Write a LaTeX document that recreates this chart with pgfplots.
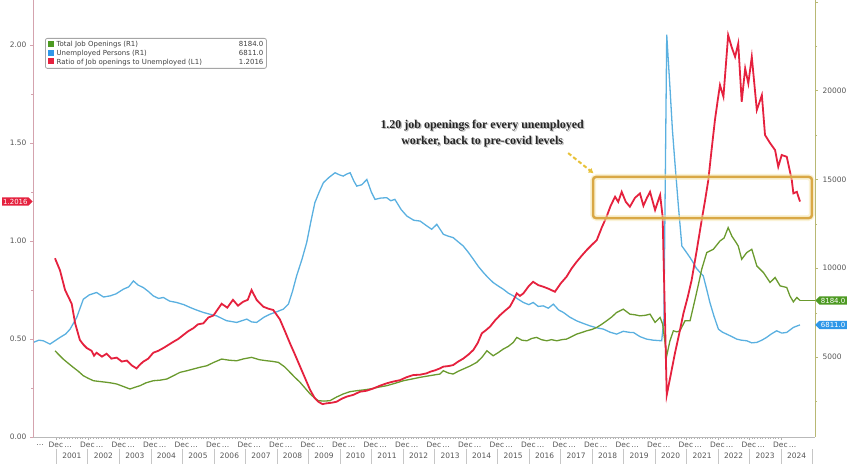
\documentclass[border=0pt]{standalone}
\usepackage{fontspec}
\setmainfont{DejaVu Sans}
\newfontfamily\annfont{Liberation Serif}
\usepackage{pgfplots}
\pgfplotsset{compat=1.18}
\usetikzlibrary{shapes.symbols,arrows.meta}

\definecolor{ratiored}{HTML}{E5213E}
\definecolor{unblue}{HTML}{5AB0E0}
\definecolor{unbox}{HTML}{2F97E8}
\definecolor{jobgreen}{HTML}{6A9A2E}
\definecolor{jobbox}{HTML}{4D9A22}
\definecolor{laxis}{HTML}{D4A3AE}
\definecolor{raxis}{HTML}{B8B874}
\definecolor{boxgold}{HTML}{D9A845}
\definecolor{arrgold}{HTML}{E8C23A}
\definecolor{ticktext}{HTML}{555555}

\pgfplotsset{
  common/.style={
    scale only axis, width=782bp, height=437bp,
    xmin=2000.262, xmax=2025.087,
    clip=false,
    /pgf/number format/assume math mode=true,
    tick label style={font=\fontsize{7.5}{8}\selectfont, text=ticktext},
    tick align=outside,
    major tick length=3bp, minor tick length=2bp,
  },
}

\begin{document}
\begin{tikzpicture}
\useasboundingbox (-33bp,-27bp) rectangle (815bp,437bp);

% right axis: openings and unemployed
\begin{axis}[common,
  ymin=500, ymax=25100,
  axis y line*=right, axis x line=none,
  y axis line style={draw=raxis, line width=0.8bp},
  scaled y ticks=false,
  ytick={5000,10000,15000,20000},
  extra y ticks={25000}, extra y tick labels={},
  minor ytick={2500,7500,12500,17500,22500},
  y tick style={draw=raxis},
  yticklabel style={/pgf/number format/1000 sep={}, xshift=1bp},
]
\addplot[unblue, line width=1.3bp] coordinates {
(2000.27,5826) (2000.45,5950) (2000.59,5916) (2000.80,5730) (2001.12,6107)
(2001.30,6300) (2001.44,6573) (2001.65,7230) (2001.86,8258) (2002.05,8500)
(2002.28,8635) (2002.50,8380) (2002.71,8444) (2002.90,8560) (2003.13,8820)
(2003.30,8950) (2003.45,9286) (2003.60,9050) (2003.76,8916) (2003.92,8700)
(2004.08,8444) (2004.25,8300) (2004.40,8354) (2004.60,8150) (2004.82,8073)
(2005.05,7950) (2005.25,7792) (2005.45,7650) (2005.67,7511) (2005.90,7400)
(2006.09,7320) (2006.40,7050) (2006.73,6949) (2006.90,7050) (2007.05,7135)
(2007.20,6980) (2007.36,6949) (2007.60,7250) (2007.79,7416) (2008.00,7550)
(2008.21,7697) (2008.37,7978) (2008.50,8700) (2008.63,9568) (2008.80,10500)
(2008.95,11444) (2009.08,12600) (2009.21,13691) (2009.35,14300) (2009.48,14815)
(2009.65,15100) (2009.85,15376) (2010.00,15250) (2010.11,15187) (2010.22,15300)
(2010.33,15376) (2010.45,14900) (2010.54,14623) (2010.70,14700) (2010.86,15000)
(2011.00,14300) (2011.12,13876) (2011.30,13950) (2011.49,13972) (2011.62,13800)
(2011.75,13876) (2011.95,13300) (2012.13,12938) (2012.35,12700) (2012.55,12657)
(2012.75,12400) (2012.92,12191) (2013.08,12472) (2013.29,11910) (2013.45,11800)
(2013.60,11725) (2013.75,11500) (2013.92,11253) (2014.08,10900) (2014.24,10506)
(2014.40,10100) (2014.56,9758) (2014.72,9450) (2014.87,9197) (2015.03,9000)
(2015.19,8820) (2015.35,8600) (2015.51,8444) (2015.67,8250) (2015.83,8073)
(2016.00,7950) (2016.14,8073) (2016.30,7850) (2016.46,7882) (2016.62,7750)
(2016.78,7978) (2016.95,7650) (2017.10,7511) (2017.30,7250) (2017.52,7039)
(2017.72,6900) (2017.94,6758) (2018.15,6650) (2018.37,6573) (2018.58,6400)
(2018.79,6292) (2019.00,6450) (2019.21,6387) (2019.32,6387) (2019.53,6150)
(2019.74,6011) (2019.95,5950) (2020.22,5916) (2020.29,7135) (2020.38,23146)
(2020.48,20242) (2020.56,17800) (2020.64,15938) (2020.75,13500) (2020.86,11253)
(2021.01,10882) (2021.12,10600) (2021.22,10320) (2021.32,10000) (2021.44,9758)
(2021.54,9568) (2021.65,8800) (2021.75,8073) (2021.88,7300) (2022.02,6573)
(2022.15,6400) (2022.28,6292) (2022.45,6150) (2022.60,6011) (2022.75,5950)
(2022.92,5916) (2023.08,5800) (2023.24,5826) (2023.40,5950) (2023.55,6107)
(2023.70,6300) (2023.87,6478) (2024.03,6350) (2024.19,6387) (2024.40,6669)
(2024.61,6811)
};
\addplot[jobgreen, line width=1.3bp] coordinates {
(2000.96,5354) (2001.10,5100) (2001.22,4888) (2001.38,4650) (2001.54,4421)
(2001.70,4200) (2001.86,3949) (2002.02,3800) (2002.18,3668) (2002.40,3620)
(2002.60,3579) (2002.75,3540) (2002.92,3483) (2003.12,3350) (2003.34,3202)
(2003.50,3300) (2003.66,3388) (2003.85,3550) (2004.08,3668) (2004.30,3700)
(2004.51,3764) (2004.72,3950) (2004.93,4140) (2005.15,4230) (2005.35,4326)
(2005.55,4420) (2005.78,4511) (2006.00,4700) (2006.25,4888) (2006.50,4820)
(2006.73,4792) (2006.95,4900) (2007.20,4983) (2007.45,4850) (2007.68,4792)
(2007.85,4760) (2008.05,4702) (2008.25,4450) (2008.42,4140) (2008.58,3850)
(2008.74,3579) (2008.90,3250) (2009.06,2921) (2009.20,2700) (2009.32,2545)
(2009.50,2520) (2009.69,2545) (2009.90,2750) (2010.11,2921) (2010.32,3050)
(2010.54,3107) (2010.75,3150) (2010.96,3202) (2011.22,3300) (2011.49,3388)
(2011.75,3520) (2012.02,3668) (2012.28,3760) (2012.55,3859) (2012.85,3950)
(2013.18,4045) (2013.29,4230) (2013.45,4100) (2013.60,4045) (2013.76,4200)
(2013.92,4326) (2014.14,4500) (2014.35,4702) (2014.52,5000) (2014.67,5354)
(2014.87,5073) (2015.03,5250) (2015.19,5449) (2015.35,5600) (2015.51,5826)
(2015.62,6107) (2015.78,5950) (2015.94,5916) (2016.10,6050) (2016.25,6107)
(2016.40,5980) (2016.57,5916) (2016.72,5980) (2016.89,5916) (2017.05,5980)
(2017.20,6011) (2017.36,6150) (2017.52,6292) (2017.68,6380) (2017.84,6478)
(2018.00,6550) (2018.16,6669) (2018.32,6850) (2018.47,7039) (2018.63,7250)
(2018.79,7511) (2019.00,7697) (2019.21,7416) (2019.37,7380) (2019.53,7320)
(2019.70,7350) (2019.85,7416) (2020.01,6949) (2020.17,7230) (2020.25,6854)
(2020.38,5073) (2020.48,5900) (2020.59,6478) (2020.70,6420) (2020.80,6478)
(2020.96,7039) (2021.12,7039) (2021.28,8258) (2021.40,9200) (2021.49,9945)
(2021.65,10882) (2021.86,11067) (2022.07,11534) (2022.20,11700) (2022.33,12287)
(2022.45,11800) (2022.55,11534) (2022.65,11253) (2022.76,10506) (2022.92,10882)
(2023.08,11067) (2023.24,10129) (2023.45,9758) (2023.66,9197) (2023.82,9478)
(2023.98,9006) (2024.19,8916) (2024.29,8444) (2024.40,8107) (2024.51,8354)
(2024.61,8184)
};
\coordinate (gEnd) at (axis cs:2024.61,8184);
\coordinate (gTag) at (axis cs:2025.087,8184);
\coordinate (bTag) at (axis cs:2025.087,6811);
\end{axis}

% left axis: ratio
\begin{axis}[common,
  ymin=0, ymax=2.23,
  axis y line*=left, axis x line*=bottom,
  y axis line style={draw=laxis, line width=0.8bp},
  x axis line style={draw=gray!55, line width=0.6bp},
  ytick={0,0.5,1,1.5,2},
  minor ytick={0.25,0.75,1.25,1.75},
  y tick style={draw=laxis},
  x tick style={draw=gray!60},
  yticklabel style={/pgf/number format/.cd, fixed, fixed zerofill, precision=2},
  xtick={2001,2002,2003,2004,2005,2006,2007,2008,2009,2010,2011,2012,
         2013,2014,2015,2016,2017,2018,2019,2020,2021,2022,2023,2024},
  xticklabel={Dec\,\ldots},
  xticklabel style={xshift=4bp, yshift=1bp},
  minor x tick num=11,
]
\addplot[ratiored, line width=1.8bp] coordinates {
(2000.96,0.912) (2001.12,0.85) (2001.28,0.75) (2001.49,0.68) (2001.60,0.58)
(2001.75,0.495) (2001.87,0.47) (2001.97,0.454) (2002.12,0.44) (2002.20,0.415)
(2002.28,0.43) (2002.45,0.41) (2002.60,0.425) (2002.75,0.40) (2002.92,0.405)
(2003.08,0.385) (2003.24,0.39) (2003.40,0.365) (2003.55,0.35) (2003.66,0.37)
(2003.76,0.384) (2003.92,0.40) (2004.08,0.43) (2004.24,0.44) (2004.40,0.454)
(2004.56,0.47) (2004.72,0.486) (2004.87,0.50) (2005.03,0.52) (2005.19,0.54)
(2005.35,0.555) (2005.50,0.575) (2005.67,0.58) (2005.83,0.61) (2005.99,0.62)
(2006.12,0.65) (2006.25,0.68) (2006.43,0.66) (2006.61,0.70) (2006.77,0.67)
(2006.93,0.69) (2007.08,0.70) (2007.20,0.75) (2007.36,0.70) (2007.57,0.665)
(2007.73,0.655) (2007.89,0.648) (2008.10,0.60) (2008.26,0.54) (2008.42,0.478)
(2008.58,0.42) (2008.74,0.36) (2008.90,0.30) (2009.06,0.24) (2009.20,0.20)
(2009.32,0.18) (2009.45,0.168) (2009.59,0.172) (2009.75,0.175) (2009.90,0.18)
(2010.06,0.195) (2010.22,0.206) (2010.43,0.215) (2010.64,0.231) (2010.85,0.236)
(2011.07,0.248) (2011.28,0.262) (2011.49,0.274) (2011.70,0.283) (2011.91,0.29)
(2012.12,0.305) (2012.33,0.316) (2012.55,0.318) (2012.76,0.325) (2012.87,0.333)
(2013.02,0.34) (2013.18,0.35) (2013.29,0.359) (2013.45,0.362) (2013.60,0.367)
(2013.76,0.385) (2013.92,0.40) (2014.08,0.42) (2014.24,0.444) (2014.38,0.48)
(2014.51,0.529) (2014.64,0.545) (2014.77,0.563) (2014.93,0.595) (2015.09,0.622)
(2015.25,0.645) (2015.40,0.665) (2015.52,0.70) (2015.62,0.733) (2015.72,0.72)
(2015.83,0.733) (2016.00,0.77) (2016.14,0.792) (2016.30,0.775) (2016.46,0.767)
(2016.65,0.755) (2016.83,0.741) (2017.02,0.785) (2017.20,0.818) (2017.36,0.86)
(2017.52,0.894) (2017.68,0.925) (2017.84,0.954) (2018.00,0.98) (2018.16,1.005)
(2018.32,1.07) (2018.47,1.124) (2018.60,1.18) (2018.74,1.226) (2018.84,1.20)
(2018.95,1.251) (2019.08,1.20) (2019.21,1.175) (2019.37,1.22) (2019.53,1.243)
(2019.64,1.18) (2019.75,1.22) (2019.85,1.251) (2020.01,1.158) (2020.17,1.235)
(2020.25,1.124) (2020.38,0.214) (2020.51,0.32) (2020.64,0.427) (2020.78,0.53)
(2020.91,0.631) (2021.04,0.71) (2021.17,0.80) (2021.33,0.95) (2021.49,1.107)
(2021.60,1.21) (2021.70,1.311) (2021.80,1.46) (2021.91,1.617) (2022.00,1.72)
(2022.07,1.796) (2022.18,1.736) (2022.33,2.051) (2022.44,1.99) (2022.55,1.94)
(2022.65,2.008) (2022.76,1.711) (2022.87,1.881) (2022.97,1.804) (2023.08,1.94)
(2023.24,1.668) (2023.40,1.745) (2023.50,1.541) (2023.66,1.50) (2023.82,1.464)
(2023.92,1.379) (2024.03,1.439) (2024.19,1.43) (2024.35,1.311) (2024.40,1.243)
(2024.51,1.251) (2024.61,1.2016)
};
\coordinate (rTag) at (axis cs:2000.262,1.2016);
\coordinate (boxA) at (axis cs:2018.04,1.117);
\coordinate (boxB) at (axis cs:2024.99,1.327);
\coordinate (arrA) at (axis cs:2017.25,1.449);
\coordinate (arrB) at (axis cs:2018.06,1.345);
\coordinate (annot) at (axis cs:2014.52,1.549);
\end{axis}

% year labels and separators below the axis (1 year = 31.5 bp, 2000.262 at 0)
\foreach \yr in {2001,2002,2003,2004,2005,2006,2007,2008,2009,2010,2011,2012,
                 2013,2014,2015,2016,2017,2018,2019,2020,2021,2022,2023,2024} {
  \pgfmathsetmacro{\xs}{(\yr-2000.262)*31.5005}
  \pgfmathsetmacro{\xm}{\xs+15.75}
  \node[font=\fontsize{7.5}{8}\selectfont, text=ticktext] at (\xm bp,-18.5bp) {\yr};
  \draw[gray!45, line width=0.5bp] (\xs bp,-12bp) -- (\xs bp,-27bp);
}
\draw[gray!45, line width=0.5bp] (779.7bp,-12bp) -- (779.7bp,-27bp);
\node[font=\fontsize{7.5}{8}\selectfont, text=ticktext] at (7bp,-8.5bp) {\ldots};

% end-value tags
\draw[jobgreen, line width=0.8bp] (gEnd) -- (gTag);
\node[signal, signal to=west, fill=jobbox, text=white,
  font=\fontsize{7}{8}\selectfont, inner xsep=1.5bp, inner ysep=1.5bp, anchor=west]
  at (gTag) {8184.0};
\node[signal, signal to=west, fill=unbox, text=white,
  font=\fontsize{7}{8}\selectfont, inner xsep=1.5bp, inner ysep=1.5bp, anchor=west]
  at (bTag) {6811.0};
\node[signal, signal to=east, fill=ratiored, text=white,
  font=\fontsize{7}{8}\selectfont, inner xsep=1bp, inner ysep=1.5bp, anchor=east]
  at (rTag) {1.2016};

% annotation box and arrow
\draw[arrgold!40, line width=6bp, opacity=0.5, rounded corners=4bp] (boxA) rectangle (boxB);
\draw[boxgold, line width=2.5bp, rounded corners=3bp] (boxA) rectangle (boxB);
\draw[arrgold, line width=2bp, dash pattern=on 4bp off 2.5bp, -{Latex[length=5bp,width=6bp]}]
  (arrA) -- (arrB);
\node[font=\annfont\bfseries\fontsize{12}{16}\selectfont, align=center,
  text=black!45, opacity=0.6] at ([xshift=1.2bp, yshift=-1.2bp]annot)
  {1.20 job openings for every unemployed\\worker, back to pre-covid levels};
\node[font=\annfont\bfseries\fontsize{12}{16}\selectfont, align=center, text=black!85]
  at (annot)
  {1.20 job openings for every unemployed\\worker, back to pre-covid levels};

% legend
\node[draw=gray!70, line width=0.8bp, rounded corners=2bp, fill=white, anchor=north west,
  inner xsep=3bp, inner ysep=2.5bp, font=\fontsize{7}{8.8}\selectfont, text=black!75,
  align=left] at (12bp,399bp) {%
  \makebox[188bp][l]{\textcolor{jobbox}{\rule{6bp}{6bp}}\ Total Job Openings (R1)}\makebox[27bp][r]{8184.0}\\
  \makebox[188bp][l]{\textcolor{unbox}{\rule{6bp}{6bp}}\ Unemployed Persons (R1)}\makebox[27bp][r]{6811.0}\\
  \makebox[188bp][l]{\textcolor{ratiored}{\rule{6bp}{6bp}}\ Ratio of Job openings to Unemployed (L1)}\makebox[27bp][r]{1.2016}};
\end{tikzpicture}
\end{document}
